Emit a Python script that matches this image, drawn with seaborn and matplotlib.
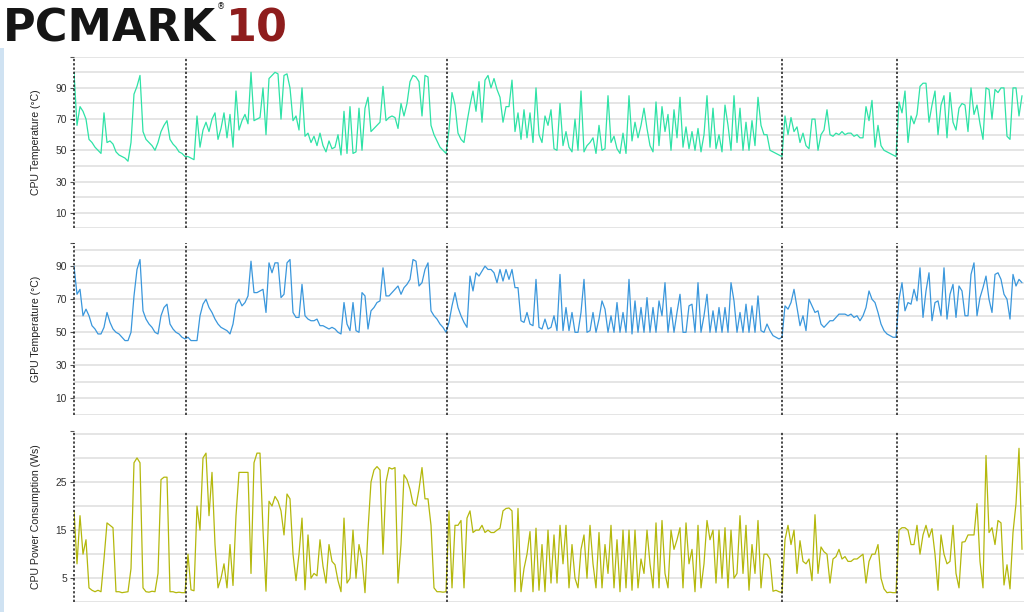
import numpy as np
import pandas as pd
import seaborn as sns
import matplotlib
matplotlib.use("Agg")
import matplotlib.pyplot as plt
from matplotlib.patches import Rectangle

# %% data read off the PCMark 10 sensor log (one sample ~ every 3 px)
cpu_temp = [
    # section 1
    100, 66, 78, 75, 70, 57, 55, 52, 50, 48, 74, 55, 56, 54, 49, 47, 46, 45, 43, 55,
    86, 91, 98, 62, 57, 55, 53, 50, 55, 62, 66, 69, 57, 54, 52, 49, 48, 46,
    # section 2
    46, 45, 44, 72, 52, 63, 68, 62, 70, 74,
    57, 64, 74, 58, 73, 52, 88, 63, 69, 73,
    67, 100, 69, 70, 71, 90, 60, 96, 98, 100,
    99, 70, 98, 99, 90, 69, 72, 63, 90, 59,
    61, 55, 59, 53, 61, 53, 49, 56, 51, 52,
    60, 47, 75, 48, 78, 48, 49, 77, 50, 77,
    84, 62, 64, 66, 68, 91, 69, 71, 72, 71,
    64, 80, 72, 80, 94, 98, 97, 94, 72, 98,
    97, 66, 60, 56, 52, 50, 48,
    # section 3
    63, 87, 79, 61, 57, 55, 68, 79, 88, 75,
    94, 68, 95, 98, 90, 96, 89, 84, 68, 78,
    78, 95, 62, 74, 57, 76, 58, 74, 55, 90,
    60, 55, 72, 66, 76, 51, 50, 80, 53, 62,
    52, 49, 70, 50, 88, 49, 53, 55, 58, 48,
    66, 50, 51, 85, 55, 59, 51, 48, 61, 48,
    85, 56, 68, 58, 66, 77, 64, 53, 49, 81,
    53, 78, 62, 73, 50, 76, 58, 84, 52, 65,
    51, 62, 50, 64, 49, 60, 85, 52, 77, 51,
    60, 49, 79, 66, 50, 85, 55, 77, 50, 68,
    50, 69, 53, 84, 66, 60, 60, 50, 49, 48,
    47, 46,
    # section 4
    72, 60, 71, 62, 65, 55, 61, 53, 51, 70, 70, 50, 60, 63, 76, 60, 59, 61, 60, 62,
    60, 61, 61, 59, 60, 58, 58, 78, 69, 82, 52, 66, 53, 50, 49, 48, 47, 46,
    # section 5
    81, 74, 88, 55, 72, 67, 73, 91, 93, 93, 68, 79, 88, 60, 79, 85, 58, 87, 68, 63,
    77, 80, 79, 62, 90, 73, 79, 67, 57, 90, 89, 70, 89, 87, 90, 90, 59, 57, 90, 90,
    72, 85,
]

gpu_temp = [
    # section 1
    90, 73, 76, 60, 64, 60, 54, 52, 49, 49, 53, 62, 56, 52, 50, 49, 47, 45, 45, 50,
    72, 88, 94, 63, 58, 55, 53, 50, 49, 60, 65, 67, 55, 52, 50, 49, 47, 46,
    # section 2
    47, 45, 45, 45, 60, 67, 70, 65, 62, 58,
    55, 53, 52, 51, 49, 55, 67, 70, 66, 68,
    72, 93, 74, 74, 75, 76, 62, 92, 86, 92,
    92, 71, 73, 92, 94, 62, 59, 59, 79, 60,
    58, 57, 57, 58, 54, 54, 53, 52, 53, 52,
    50, 49, 68, 55, 51, 68, 51, 50, 74, 72,
    52, 63, 65, 68, 69, 89, 72, 72, 74, 76,
    78, 73, 77, 79, 82, 94, 93, 78, 80, 88,
    92, 63, 60, 58, 55, 53, 50,
    # section 3
    56, 66, 74, 65, 60, 56, 53, 84, 75, 86,
    84, 87, 90, 88, 88, 86, 80, 88, 81, 88,
    82, 88, 77, 77, 57, 56, 62, 55, 54, 82,
    53, 52, 58, 52, 53, 60, 51, 85, 51, 65,
    51, 62, 50, 50, 62, 82, 50, 51, 62, 50,
    58, 69, 64, 50, 60, 50, 68, 50, 62, 50,
    82, 49, 69, 50, 65, 50, 71, 50, 65, 50,
    69, 60, 80, 50, 65, 50, 62, 73, 50, 50,
    66, 67, 50, 80, 50, 60, 73, 50, 63, 50,
    65, 50, 65, 50, 80, 69, 50, 62, 50, 67,
    50, 66, 50, 72, 51, 50, 55, 51, 48, 47,
    46, 47,
    # section 4
    66, 64, 68, 76, 65, 54, 60, 51, 70, 66, 62, 63, 55, 53, 55, 57, 57, 59, 61, 61,
    61, 60, 61, 59, 60, 57, 60, 65, 75, 70, 68, 62, 55, 51, 49, 48, 47, 47,
    # section 5
    70, 80, 63, 68, 67, 76, 69, 89, 59, 75, 86, 57, 68, 69, 60, 89, 58, 73, 79, 59,
    78, 75, 60, 60, 85, 92, 60, 71, 77, 84, 70, 62, 85, 86, 82, 73, 70, 58, 85, 78,
    82, 80,
]

cpu_power = [
    # section 1
    19, 8, 18, 10, 13, 3, 2.5, 2.2, 2.5, 2.2, 9, 16.5, 16, 15.5, 2.2, 2.2, 2.0, 2.1, 2.2, 7,
    29, 30, 29, 3, 2.2, 2.1, 2.3, 2.2, 6, 25.5, 26, 26, 2.2, 2.2, 2.0, 2.1, 2.0, 2.0,
    # section 2
    10, 2.6, 2.4, 20, 15, 30, 31, 18, 27, 12,
    3, 5, 8, 3, 12, 3.5, 18, 27, 27, 27,
    27, 6, 29, 31, 31, 15, 2.3, 21, 20, 22,
    21, 19, 14, 22.5, 21.5, 10, 4.5, 10, 17.5, 2.6,
    14, 5, 6, 5.5, 13, 7.5, 4, 12, 8.5, 7.8,
    4.5, 2.2, 17.5, 4, 5, 15, 5, 12, 9, 2,
    15, 25, 27.5, 28.2, 27.5, 10, 25, 28, 27.7, 28,
    4, 12, 26.5, 25.5, 23.5, 20.5, 20, 23.5, 28, 21.5,
    21.5, 16, 3, 2.2, 2.2, 2.1, 2.2,
    # section 3
    19, 3, 16, 16, 17, 3, 17.5, 19, 14.5, 15,
    15, 16, 14.5, 15, 14.5, 14.5, 15, 15.4, 19, 19.5,
    19.6, 19, 2.2, 19.5, 2.2, 7, 10, 14.7, 2.2, 15.4,
    2.5, 12, 2.2, 15, 4, 14, 4, 16, 8, 16,
    3, 12, 5, 3, 11, 14, 5, 16, 8, 3,
    14.5, 3, 12, 6, 16, 3, 13, 2.2, 15, 3,
    15, 2.5, 15, 3, 9, 6, 15, 8, 3, 16.5,
    3, 17, 6, 3, 15, 11, 13, 15.5, 3, 16.5,
    8, 11, 2.2, 16, 3, 8, 17, 13, 15, 4,
    15, 5, 15.5, 3, 15, 5, 6, 18, 6, 16,
    2.5, 12, 6, 17, 3, 10, 10, 9, 2.3, 2.5,
    2.2, 2.0,
    # section 4
    13, 16, 12, 15, 6, 12.8, 8.5, 8, 9, 4.5, 18.2, 6, 11.5, 10.5, 10, 4, 9, 9.5, 11, 9,
    9.5, 8.5, 8.5, 9, 9, 9.5, 10, 4, 8.5, 10, 10, 12, 5, 2.8, 2, 2.1, 2, 2,
    # section 5
    15, 15.5, 15.5, 15, 12, 12, 16, 10, 14, 16, 13.5, 15.3, 10, 2.5, 14, 10, 8, 8.5, 16, 6,
    3, 12.5, 12.6, 14, 14, 14, 20.5, 8.5, 3, 30.5, 14.5, 15.5, 12, 17, 16.5, 3.6, 7.8, 2.8, 14.5, 20.5,
    32, 11,
]

# workload section boundaries (sample index)
section_starts = [0, 37.33, 124.33, 236, 274.33]

series = ["cpu_temp", "gpu_temp", "cpu_power"]
ylabels = ["CPU Temperature (°C)", "GPU Temperature (°C)", "CPU Power Consumption (Ws)"]
yticks = [[10, 30, 50, 70, 90], [10, 30, 50, 70, 90], [5, 15, 25]]
ytops = [110, 104, 35.6]
grid_steps = [10, 10, 5]
colors = ["#2ee2a6", "#3a97dc", "#b4b80c"]

df = pd.DataFrame({"cpu_temp": cpu_temp, "gpu_temp": gpu_temp, "cpu_power": cpu_power})
df["t"] = np.arange(len(df))

# %% figure
sns.set_theme(style="white")
plt.rcParams["font.family"] = ["Liberation Sans", "DejaVu Sans"]

W, H = 1024, 612
fig = plt.figure(figsize=(W / 100, H / 100), dpi=100)

# panel extents in pixels (top, bottom)
panel_px = [(56.7, 228.3), (243, 415), (431, 602.3)]
left_px = 74

for i, col in enumerate(series):
    top, bot = panel_px[i]
    ax = fig.add_axes([left_px / W, (H - bot) / H, (W - left_px) / W, (bot - top) / H])

    for g in np.arange(0, ytops[i] + 0.01, grid_steps[i]):
        ax.axhline(g, color="#dedede", lw=1.1, zorder=0)

    sns.lineplot(data=df, x="t", y=col, ax=ax, color=colors[i],
                 linewidth=0.9, estimator=None, zorder=3)

    for s in section_starts:
        ax.axvline(s, color="#1a1a1a", lw=1.1, ls=(0, (1.5, 1.3)),
                   clip_on=False, zorder=4)

    ax.set_xlim(0, (W - left_px) / 3)
    ax.set_ylim(0, ytops[i])
    ax.set_xticks([])
    ax.set_xlabel("")
    ticks = yticks[i] + [ytops[i]]
    ax.set_yticks(ticks)
    ax.set_yticklabels([str(v) for v in yticks[i]] + [""])
    ax.tick_params(axis="y", length=3, width=0.8, color="#555555", pad=2,
                   labelsize=7.4, labelcolor="#333333", left=True)
    for sp in ax.spines.values():
        sp.set_visible(False)
    ax.set_ylabel(ylabels[i], fontsize=7.6, color="#222222")
    ax.yaxis.set_label_coords(-0.035, 0.5)

# PCMark 10 logo
logo_y = 1 - 42 / H
fig.text(3 / W, logo_y, "PCMARK", family="DejaVu Sans", fontweight="bold",
         fontsize=32, color="#151515", va="baseline", ha="left")
fig.text(226 / W, logo_y, "10", family="DejaVu Sans", fontweight="bold",
         fontsize=32, color="#8e1d1d", va="baseline", ha="left")
fig.text(221 / W, 1 - 2 / H, "®", family="DejaVu Sans", fontsize=6,
         color="#151515", va="top", ha="center")

# light strip at the left edge of the screenshot
fig.add_artist(Rectangle((0, 0), 4 / W, (H - 48) / H, transform=fig.transFigure,
                         color="#cfe2f2", lw=0))

fig.savefig("out.png", dpi=100)
